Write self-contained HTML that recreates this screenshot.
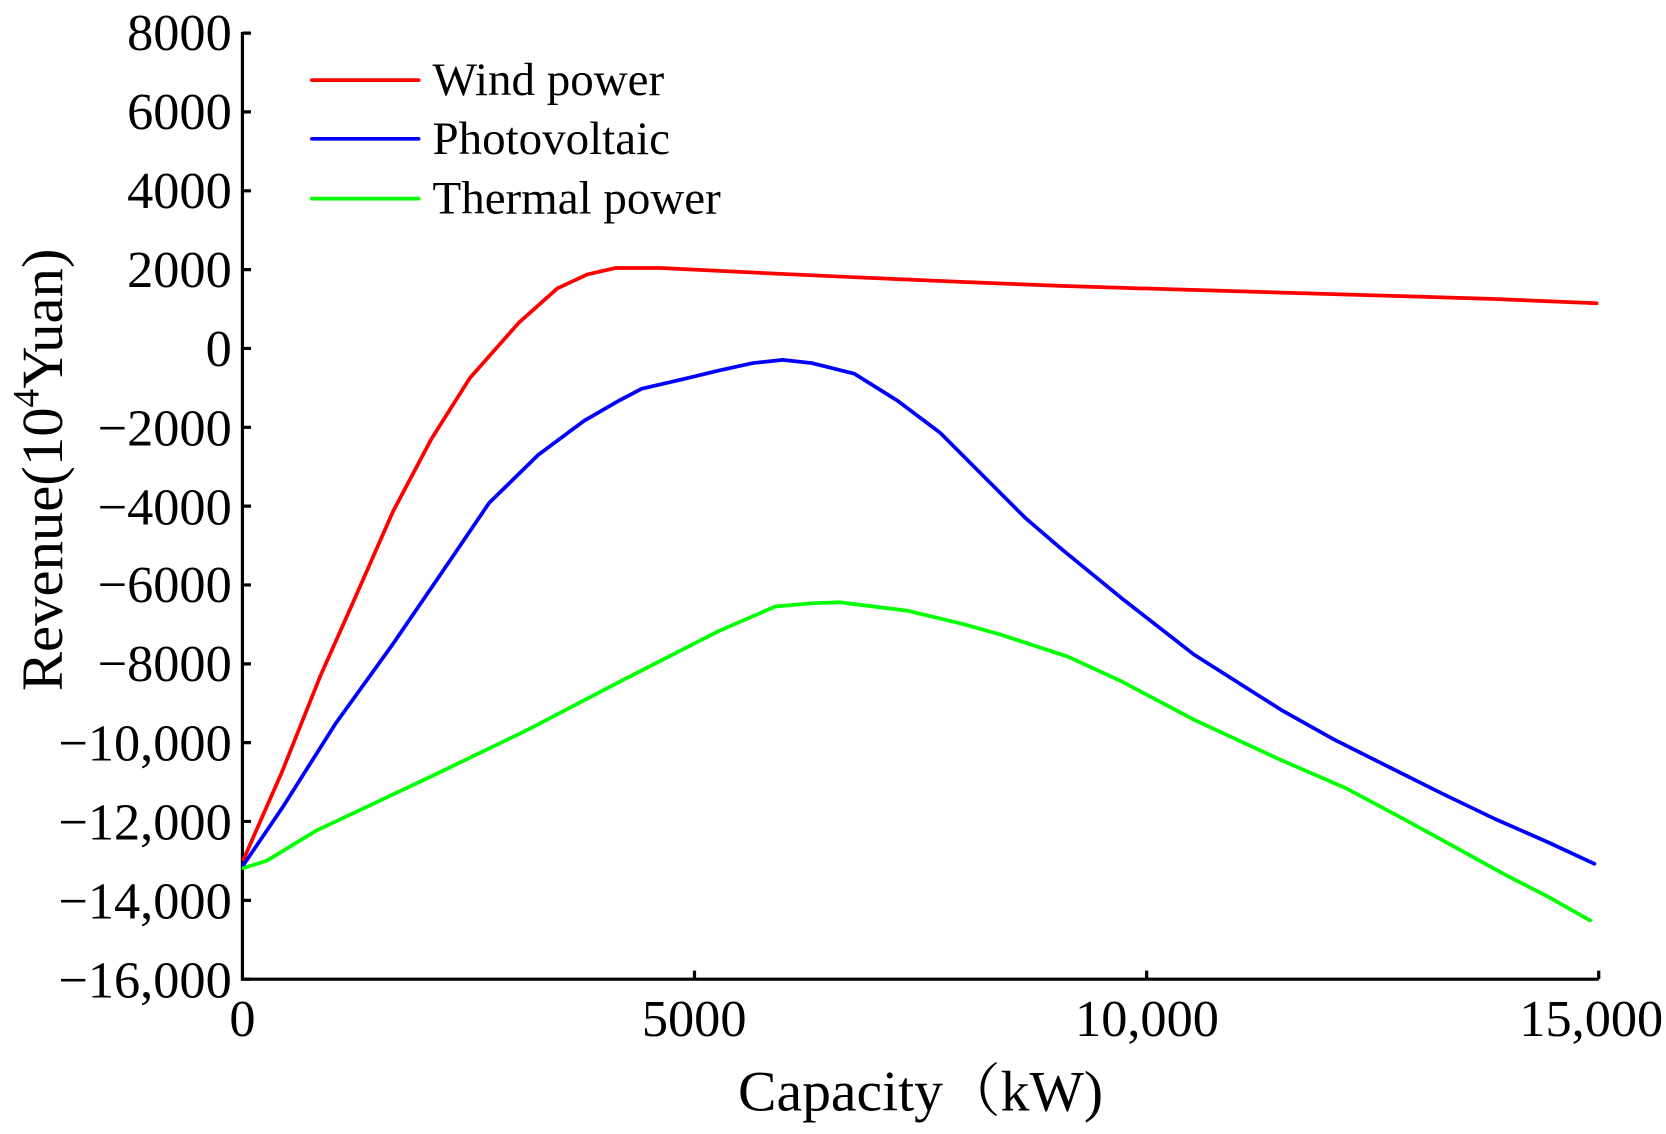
<!DOCTYPE html>
<html><head><meta charset="utf-8"><style>
html,body{margin:0;padding:0;background:#fff;}
svg{display:block;}
text{font-family:"Liberation Serif","Noto Serif CJK SC",serif;fill:#000;}
</style></head><body>
<svg width="1666" height="1134" viewBox="0 0 1560 1062" preserveAspectRatio="none" xmlns="http://www.w3.org/2000/svg">
<rect width="1560" height="1062" fill="#fff"/>
<g stroke="#000" stroke-width="3" fill="none">
<path d="M227,30 V917 H1497"/>
<path d="M227,31 h8 M227,104.8 h8 M227,178.7 h8 M227,252.5 h8 M227,326.3 h8 M227,400.2 h8 M227,474 h8 M227,547.8 h8 M227,621.7 h8 M227,695.5 h8 M227,769.3 h8 M227,843.2 h8 M227,917 h8"/>
<path d="M650.3,917 v-8 M1073.7,917 v-8 M1497,917 v-8"/>
</g>
<g font-size="49" text-anchor="end">
<text x="217" y="47">8000</text>
<text x="217" y="121">6000</text>
<text x="217" y="195">4000</text>
<text x="217" y="269">2000</text>
<text x="217" y="343">0</text>
<text x="217" y="417">−2000</text>
<text x="217" y="491">−4000</text>
<text x="217" y="564">−6000</text>
<text x="217" y="638">−8000</text>
<text x="217" y="712">−10,000</text>
<text x="217" y="786">−12,000</text>
<text x="217" y="860">−14,000</text>
<text x="217" y="934">−16,000</text>
</g>
<g font-size="49" text-anchor="middle">
<text x="227" y="970">0</text>
<text x="650" y="970">5000</text>
<text x="1074" y="970">10,000</text>
<text x="1490" y="970">15,000</text>
</g>
<text x="862" y="1040" font-size="54" text-anchor="middle">Capacity（kW)</text>
<text transform="translate(58,440) rotate(-90)" font-size="55" text-anchor="middle">Revenue(10<tspan font-size="35" dy="-22">4</tspan><tspan dy="22">Yuan)</tspan></text>
<g fill="none" stroke-width="3.5" stroke-linejoin="round" stroke-linecap="round">
<path stroke="#ff0000" d="M228,805 L264,723 L300,633 L332,561 L368,479 L404,411 L440,354 L486,302 L522,270 L550,257 L576,251 L619,251 L700,255 L786,259 L900,264 L1000,268 L1100,271 L1200,274 L1300,277 L1400,280 L1495,284"/>
<path stroke="#0000ff" d="M228,810 L264,757 L314,678 L368,603 L422,524 L458,471 L504,426 L547,394 L580,375 L601,364 L640,355 L673,347 L705,340 L733,337 L760,340 L800,350 L840,375 L880,405 L920,445 L960,485 L995,515 L1050,560 L1118,613 L1200,665 L1250,693 L1300,718 L1350,743 L1400,767 L1450,789 L1493,809"/>
<path stroke="#00ff00" d="M228,813 L250,806 L296,778 L404,727 L493,684 L583,637 L673,591 L726,568 L760,565 L786,564 L850,572 L900,584 L936,594 L1000,615 L1050,638 L1118,674 L1200,712 L1260,738 L1318,769 L1360,792 L1409,819 L1450,840 L1489,862"/>
<path stroke="#ff0000" d="M292,75 H392"/>
<path stroke="#0000ff" d="M292,130 H392"/>
<path stroke="#00ff00" d="M292,186 H392"/>
</g>
<g font-size="44">
<text x="405" y="89">Wind power</text>
<text x="405" y="144">Photovoltaic</text>
<text x="405" y="200">Thermal power</text>
</g>
</svg>
</body></html>
